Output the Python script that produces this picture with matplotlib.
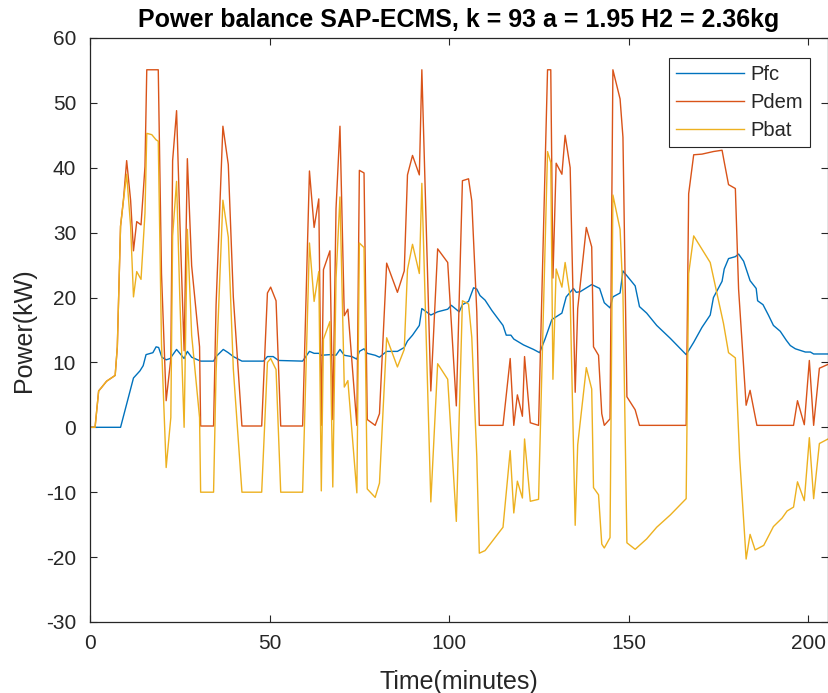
import matplotlib
matplotlib.use("Agg")
import matplotlib.pyplot as plt

plt.rcParams['font.family'] = ['Liberation Sans', 'DejaVu Sans']
plt.rcParams['axes.unicode_minus'] = False

# ---------------- data ----------------
t_pfc = [0, 8.5, 12.1, 13.9, 14.8, 15.6, 17.5, 18.4, 19.1, 20.0, 21.2, 22.3, 24.1, 26.2, 27.1,
         28.3, 30.8, 34.4, 35.1, 37.1, 38.5, 39.9, 42.3, 48.3, 49.4, 51.0, 52.5, 59.2, 61.1,
         62.4, 63.7, 64.4, 66.8, 68.5, 69.6, 70.8, 72.9, 74.3, 75.0, 76.3, 77.2, 79.4, 80.6,
         82.6, 85.6, 87.5, 88.4, 89.8, 91.7, 92.4, 94.9, 96.8, 99.6, 100.6, 102.8, 103.7, 105.4,
         106.8, 107.7, 108.6, 110.0, 111.9, 115.0, 115.9, 117.2, 118.0, 120.7, 123.5, 125.2,
         126.7, 128.6, 131.4, 132.6, 134.6, 135.4, 136.5, 139.7, 141.9, 143.2, 144.8, 145.6,
         147.6, 148.4, 151.8, 153.0, 155.0, 157.8, 161.6, 166.0, 168.1, 170.4, 172.7, 173.6,
         176.0, 176.6, 177.8, 179.7, 180.6, 182.0, 183.8, 185.5, 185.9, 187.4, 188.9, 190.3,
         192.2, 193.9, 195.0, 196.4, 199.2, 200.6, 201.5, 205.5]
pfc = [0, 0, 7.6, 8.7, 9.5, 11.2, 11.5, 12.4, 12.3, 10.8, 10.4, 10.6, 12.0, 10.6, 11.7,
       10.8, 10.2, 10.2, 10.9, 12.0, 11.5, 10.9, 10.2, 10.2, 10.9, 10.9, 10.3, 10.2, 11.7,
       11.4, 11.4, 11.1, 11.2, 11.1, 12.0, 11.1, 10.9, 10.5, 11.7, 12.1, 11.4, 11.1, 10.8,
       11.7, 11.7, 12.3, 13.3, 14.2, 15.7, 18.3, 17.3, 17.8, 18.2, 18.8, 17.8, 18.9, 19.4,
       21.5, 21.3, 20.3, 19.6, 18.0, 15.7, 14.2, 14.2, 13.6, 12.7, 12.0, 11.5,
       13.6, 16.6, 17.6, 20.1, 21.4, 20.8, 20.9, 22.0, 21.4, 19.2, 18.4, 20.1,
       20.7, 24.1, 21.8, 18.6, 17.6, 15.7, 13.7, 11.2, 13.1, 15.4, 17.3, 20.0,
       22.5, 24.4, 26.0, 26.3, 26.7, 25.6, 22.6, 21.4, 19.5, 18.9, 17.3, 15.7,
       14.8, 13.4, 12.6, 12.1, 11.6, 11.6, 11.3, 11.3]

t_dem = [0, 1.4, 2.4, 3.3, 4.6, 7.0, 7.6, 8.5, 9.3, 10.2, 11.3, 12.1, 13.0, 14.2, 15.3, 15.8,
         19.0, 19.9, 21.2, 22.5, 23.0, 24.1, 25.0, 26.2, 27.1, 28.3, 30.5, 30.8, 34.4, 35.1,
         37.0, 38.5, 39.9, 42.3, 47.8, 49.4, 50.3, 51.8, 53.1, 59.2, 61.1, 62.4, 63.7, 64.4,
         65.0, 66.8, 67.6, 68.5, 69.6, 70.8, 71.8, 74.3, 75.0, 76.3, 77.2, 79.4, 80.6, 82.6,
         85.6, 87.5, 88.4, 89.8, 91.7, 92.4, 94.9, 96.8, 99.6, 102.0, 103.7, 105.4, 106.3,
         107.7, 108.4, 115.0, 117.0, 118.0, 119.0, 120.4, 121.0, 122.6, 124.9, 127.4, 128.3,
         128.9, 129.8, 131.4, 132.3, 133.7, 135.1, 135.8, 138.2, 139.7, 140.2, 141.6, 142.5,
         143.2, 144.8, 145.6, 147.6, 148.4, 149.5, 151.8, 153.0, 166.0, 166.7, 168.1, 170.4,
         173.6, 176.0, 176.6, 177.8, 179.7, 180.6, 182.7, 183.8, 185.7, 195.9, 197.0, 198.9,
         200.3, 201.5, 203.1, 205.5]
pdem = [0, 0, 5.6, 6.2, 7.1, 8.0, 12.4, 31.0, 35.0, 41.1, 35.0, 27.2, 31.7, 31.2, 40.2, 55.1,
        55.1, 23.7, 4.1, 10.6, 41.1, 48.8, 32.0, 11.8, 41.4, 24.9, 12.4, 0.2, 0.2, 18.9,
        46.4, 40.5, 20.1, 0.2, 0.2, 20.7, 21.6, 19.5, 0.2, 0.2, 39.5, 30.8, 35.2, 0.3,
        24.3, 27.2, 1.2, 33.7, 46.4, 17.2, 18.2, 0.3, 39.6, 39.2, 1.2, 0.3, 2.1, 25.3,
        20.8, 24.1, 38.9, 41.9, 38.9, 55.1, 5.6, 27.5, 25.4, 3.3, 38.0, 38.3, 34.9,
        17.8, 0.3, 0.3, 10.6, 0.3, 5.0, 1.7, 10.9, 0.7, 0.3, 55.1, 55.1,
        23.0, 40.7, 39.0, 45.0, 40.0, 5.4, 18.3, 30.8, 27.8, 12.4, 11.1, 2.1,
        0.3, 1.3, 55.1, 50.6, 44.7, 4.7, 2.7, 0.3, 0.3, 36.0, 42.0, 42.1,
        42.5, 42.7, 40.9, 37.4, 36.8, 21.3, 3.4, 5.7, 0.3, 0.3, 4.1, 0.4,
        10.3, 0.3, 9.1, 9.7]

t_bat = [0, 1.4, 2.4, 3.3, 4.6, 7.0, 7.6, 8.5, 9.3, 10.2, 11.3, 12.1, 13.0, 14.2, 15.3, 15.8,
         17.2, 18.4, 19.0, 19.9, 21.2, 22.5, 23.0, 24.1, 25.0, 26.2, 27.1, 28.3, 30.5, 30.8,
         34.4, 35.1, 37.0, 38.5, 39.9, 42.3, 47.8, 49.4, 50.3, 51.8, 53.1, 59.2, 61.1, 62.4,
         63.7, 64.4, 65.0, 66.8, 67.6, 68.5, 69.6, 70.8, 71.8, 74.3, 75.0, 76.3, 77.2, 79.4,
         80.6, 82.6, 85.6, 87.5, 88.4, 89.8, 91.7, 92.4, 94.9, 96.8, 99.6, 102.0, 103.7, 105.4,
         106.3, 107.7, 108.4, 110.0, 111.4, 115.0, 117.0, 118.0, 119.0, 120.4, 121.0, 122.6,
         124.9, 127.4, 128.3, 128.9, 129.8, 131.4, 132.3, 133.7, 135.1, 135.8, 138.2, 139.7,
         140.2, 141.6, 142.5, 143.2, 144.8, 145.6, 147.6, 148.4, 149.5, 151.8, 155.0, 157.8,
         161.6, 166.0, 166.7, 168.1, 172.7, 173.6, 176.4, 177.8, 179.7, 180.9, 182.7, 183.8,
         185.2, 187.6, 190.3, 192.7, 194.1, 195.9, 197.0, 198.9, 200.3, 201.5, 203.1, 205.5]
pbat = [0, 0, 5.6, 6.2, 7.1, 8.0, 12.4, 31.0, 35.0, 39.0, 31.0, 20.1, 24.0, 22.8, 33.0, 45.3,
        45.1, 44.3, 44.1, 12.9, -6.2, 1.5, 29.5, 37.9, 20.0, 0.0, 30.5, 14.2, 1.5, -10.0,
        -10.0, 8.5, 35.0, 29.3, 9.0, -10.0, -10.0, 10.0, 10.6, 8.9, -10.0, -10.0, 28.4, 19.4,
        24.0, -9.8, 13.6, 16.3, -9.2, 23.0, 35.5, 6.2, 7.2, -10.1, 28.4, 27.7, -9.5, -10.8,
        -8.6, 13.8, 9.3, 12.0, 24.3, 28.2, 23.7, 37.6, -11.5, 9.8, 7.4, -14.5, 19.5, 19.0,
        13.9, -4.5, -19.4, -19.0, -18.0, -15.4, -3.6, -13.2, -8.3, -10.9, -1.8, -11.4,
        -11.1, 42.5, 40.8, 7.4, 24.4, 21.6, 25.4, 20.1, -15.1, -2.7, 9.2, 5.9,
        -9.3, -10.4, -18.0, -18.6, -17.0, 35.8, 30.5, 20.6, -17.8, -18.8, -17.2, -15.4,
        -13.5, -11.0, 23.7, 29.5, 25.4, 23.1, 16.0, 11.5, 10.7, -4.7, -20.3, -16.5,
        -18.9, -18.2, -15.3, -14.0, -12.9, -12.3, -8.4, -11.3, -1.6, -11.0, -2.5, -1.8]

series_names = ['Pfc', 'Pdem', 'Pbat']
series_colors = ['#0072BD', '#D95319', '#EDB120']
x_ticks = [0, 50, 100, 150, 200]
y_ticks = [-30, -20, -10, 0, 10, 20, 30, 40, 50, 60]
title = 'Power balance SAP-ECMS, k = 93 a = 1.95 H2 = 2.36kg'

# ---------------- figure ----------------
fig = plt.figure(figsize=(8.29, 6.93), dpi=100)
ax = fig.add_axes([0.1086, 0.1025, 0.8902, 0.8427])

for (tx, vy), name, col in zip([(t_pfc, pfc), (t_dem, pdem), (t_bat, pbat)],
                               series_names, series_colors):
    ax.plot(tx, vy, color=col, lw=1.0, label=name)

ax.set_xlim(0, 205.5)
ax.set_ylim(-30, 60)
ax.set_xticks(x_ticks)
ax.set_yticks(y_ticks)

axcol = '#262626'
for s in ax.spines.values():
    s.set_color(axcol)
    s.set_linewidth(0.9)
ax.tick_params(direction='in', length=5, width=0.8, colors=axcol, labelsize=15,
               top=True, right=True)
ax.tick_params(axis='x', pad=9)
ax.tick_params(axis='y', pad=10)

ax.set_xlabel('Time(minutes)', fontsize=18, color=axcol, labelpad=12)
ax.set_ylabel('Power(kW)', fontsize=18, color=axcol, labelpad=7)
ax.set_title(title, fontsize=18, fontweight='bold', color='black', pad=8)

leg = ax.legend(loc='upper right', bbox_to_anchor=(0.9756, 0.9658), borderaxespad=0,
                fontsize=14.5, handlelength=3.4, handletextpad=0.3, labelspacing=0.45,
                borderpad=0.35, fancybox=False, framealpha=1, edgecolor=axcol)
leg.get_frame().set_linewidth(0.8)
for txt in leg.get_texts():
    txt.set_color(axcol)

fig.savefig('out.png', dpi=100)
